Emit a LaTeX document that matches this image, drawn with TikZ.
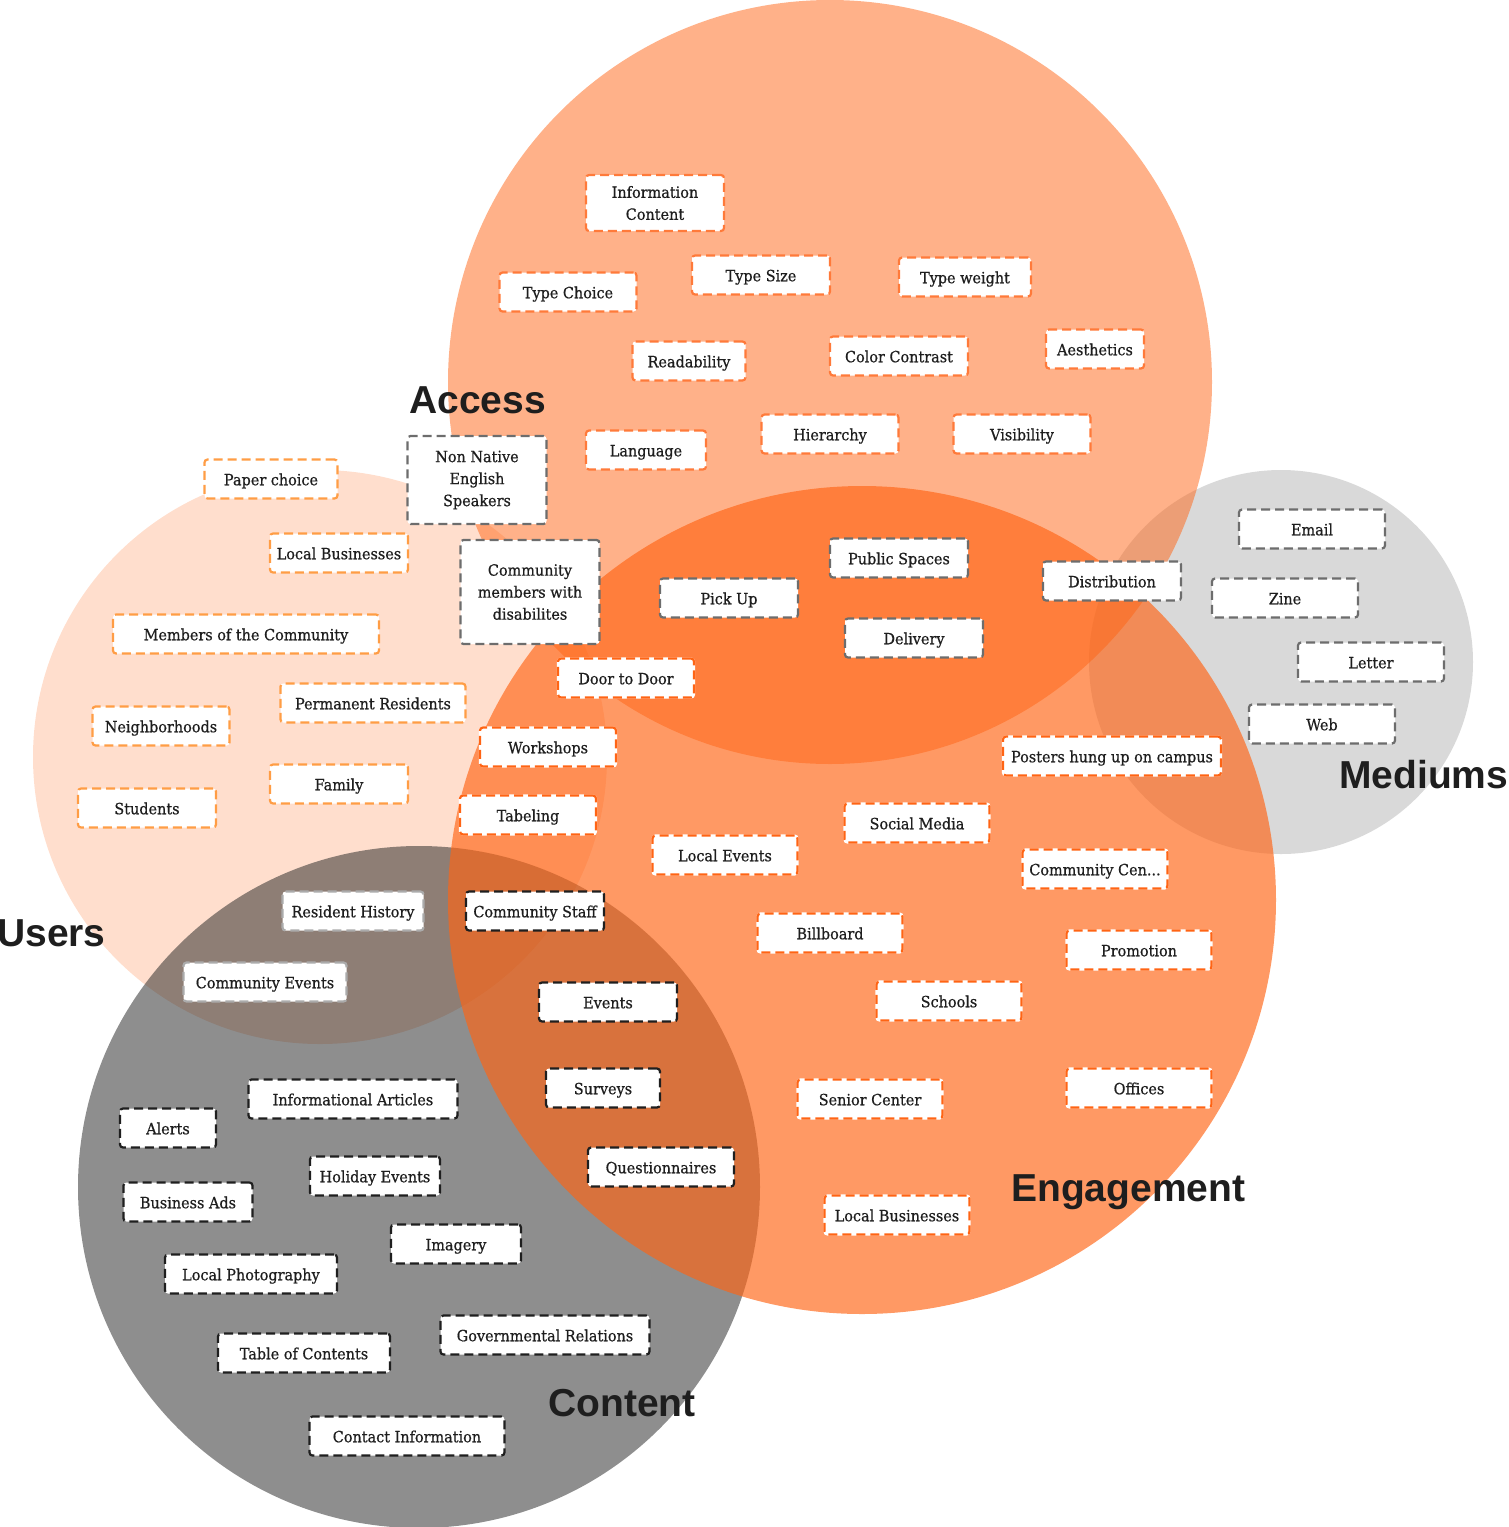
\documentclass[tikz,border=0pt]{standalone}
\usepackage{fontspec}
\setmainfont{DejaVu Serif}[FakeStretch=0.93, RawFeature={embolden=0.6}]
\newfontfamily\headfont{Liberation Sans}
\definecolor{orangeC}{HTML}{FF6414}
\definecolor{contC}{HTML}{212121}
\definecolor{medC}{HTML}{D9D9D9}
\definecolor{accC}{HTML}{FF7A3A}
\definecolor{usrC}{HTML}{FF9D45}
\definecolor{engC}{HTML}{FF6414}
\definecolor{gryC}{HTML}{6D6D6D}
\definecolor{blkC}{HTML}{1F1F1F}
\definecolor{lgrC}{HTML}{ABABAB}
\definecolor{txtC}{HTML}{1E1E1E}
\definecolor{headC}{HTML}{1E1E1E}
\tikzset{
  box/.style={rounded corners=3pt, fill=white, line width=2.2pt,
    dash pattern=on 9pt off 5pt, minimum height=39pt, inner sep=0pt,
    text height=14.5pt, text depth=2pt,
    align=center, text=txtC, font=\fontsize{15.5}{22}\selectfont},
  ml/.style={text height={}, text depth={}},
  bw/.style={minimum width=#1pt},
  bh/.style={minimum height=#1pt},
  acc/.style={box, draw=accC},
  usr/.style={box, draw=usrC},
  eng/.style={box, draw=engC, preaction={draw=white, solid, line width=2.2pt}},
  gry/.style={box, draw=gryC},
  blk/.style={box, draw=blkC},
  lgr/.style={box, draw=lgrC},
  head/.style={inner sep=0pt, text=headC, font=\headfont\bfseries\fontsize{39}{39}\selectfont}
}
\begin{document}
\begin{tikzpicture}[x=1pt, y=-1pt]
\useasboundingbox (0,0) rectangle (1509,1527);
% circles
\fill[orangeC, opacity=0.21] (320,757) circle (287pt);
\fill[contC, opacity=0.51] (419,1187) circle (341pt);
\fill[medC] (1281,662) circle (192pt);
\fill[orangeC, opacity=0.5] (830,382) circle (382pt);
\fill[orangeC, opacity=0.66] (862,900) circle (414pt);

% headings
\node[head, anchor=base west] (hAccess) at (409,413) {Access};
\node[head, anchor=base west] (hUsers) at (-3,946) {Users};
\node[head, anchor=base west] (hMediums) at (1339,788) {Mediums};
\node[head, anchor=base west] (hEngagement) at (1011,1201) {Engagement};
\node[head, anchor=base west] (hContent) at (548,1416) {Content};

% Access items
\node[acc, ml, bw=138, bh=56] (infoContent) at (655,203) {Information\\Content};
\node[acc, bw=137] (typeChoice) at (568,292) {Type Choice};
\node[acc, bw=138] (typeSize) at (761,275) {Type Size};
\node[acc, bw=132] (typeWeight) at (965,277) {Type weight};
\node[acc, bw=113] (readability) at (689,361) {Readability};
\node[acc, bw=138] (colorContrast) at (899,356) {Color Contrast};
\node[acc, bw=98] (aesthetics) at (1095,349) {Aesthetics};
\node[acc, bw=120] (language) at (646,450) {Language};
\node[acc, bw=137] (hierarchy) at (830,434) {Hierarchy};
\node[acc, bw=137] (visibility) at (1022,434) {Visibility};

% gray items
\node[gry, ml, bw=139, bh=88] (nonNative) at (477,480) {Non Native\\English\\Speakers};
\node[gry, ml, bw=139, bh=104] (disab) at (530,592) {Community\\members with\\disabilites};
\node[gry, bw=138] (pickUp) at (729,598) {Pick Up};
\node[gry, bw=138] (publicSpaces) at (899,558) {Public Spaces};
\node[gry, bw=138] (delivery) at (914,638) {Delivery};
\node[gry, bw=138] (distribution) at (1112,581) {Distribution};
\node[gry, bw=146] (email) at (1312,529) {Email};
\node[gry, bw=146] (zine) at (1285,598) {Zine};
\node[gry, bw=146] (letter) at (1371,662) {Letter};
\node[gry, bw=146] (web) at (1322,724) {Web};

% Users items
\node[usr, bw=133] (paperChoice) at (271,479) {Paper choice};
\node[usr, bw=138] (localBusU) at (339,553) {Local Businesses};
\node[usr, bw=266] (members) at (246,634) {Members of the Community};
\node[usr, bw=185] (permanent) at (373,703) {Permanent Residents};
\node[usr, bw=137] (neighborhoods) at (161,726) {Neighborhoods};
\node[usr, bw=138] (family) at (339,784) {Family};
\node[usr, bw=138] (students) at (147,808) {Students};

% Engagement items
\node[eng, bw=136] (doorToDoor) at (626,678) {Door to Door};
\node[eng, bw=136] (workshops) at (548,747) {Workshops};
\node[eng, bw=136] (tabeling) at (528,815) {Tabeling};
\node[eng, bw=218] (posters) at (1112,756) {Posters hung up on campus};
\node[eng, bw=145] (socialMedia) at (917,823) {Social Media};
\node[eng, bw=145] (localEvents) at (725,855) {Local Events};
\node[eng, bw=145] (commCen) at (1095,869) {Community Cen...};
\node[eng, bw=145] (billboard) at (830,933) {Billboard};
\node[eng, bw=145] (promotion) at (1139,950) {Promotion};
\node[eng, bw=145] (schools) at (949,1001) {Schools};
\node[eng, bw=145] (senior) at (870,1099) {Senior Center};
\node[eng, bw=145] (offices) at (1139,1088) {Offices};
\node[eng, bw=145] (localBusE) at (897,1215) {Local Businesses};

% light gray items
\node[lgr, bw=141] (residentHistory) at (353,911) {Resident History};
\node[lgr, bw=163] (communityEvents) at (265,982) {Community Events};

% black items
\node[blk, bw=138] (communityStaff) at (535,911) {Community Staff};
\node[blk, bw=138] (events) at (608,1002) {Events};
\node[blk, bw=114] (surveys) at (603,1088) {Surveys};
\node[blk, bw=146] (questionnaires) at (661,1167) {Questionnaires};
\node[blk, bw=209] (infoArticles) at (353,1099) {Informational Articles};
\node[blk, bw=96] (alerts) at (168,1128) {Alerts};
\node[blk, bw=130] (holidayEvents) at (375,1176) {Holiday Events};
\node[blk, bw=129] (businessAds) at (188,1202) {Business Ads};
\node[blk, bw=130] (imagery) at (456,1244) {Imagery};
\node[blk, bw=172] (localPhoto) at (251,1274) {Local Photography};
\node[blk, bw=209] (govRel) at (545,1335) {Governmental Relations};
\node[blk, bw=172] (toc) at (304,1353) {Table of Contents};
\node[blk, bw=195] (contactInfo) at (407,1436) {Contact Information};
\end{tikzpicture}
\end{document}
